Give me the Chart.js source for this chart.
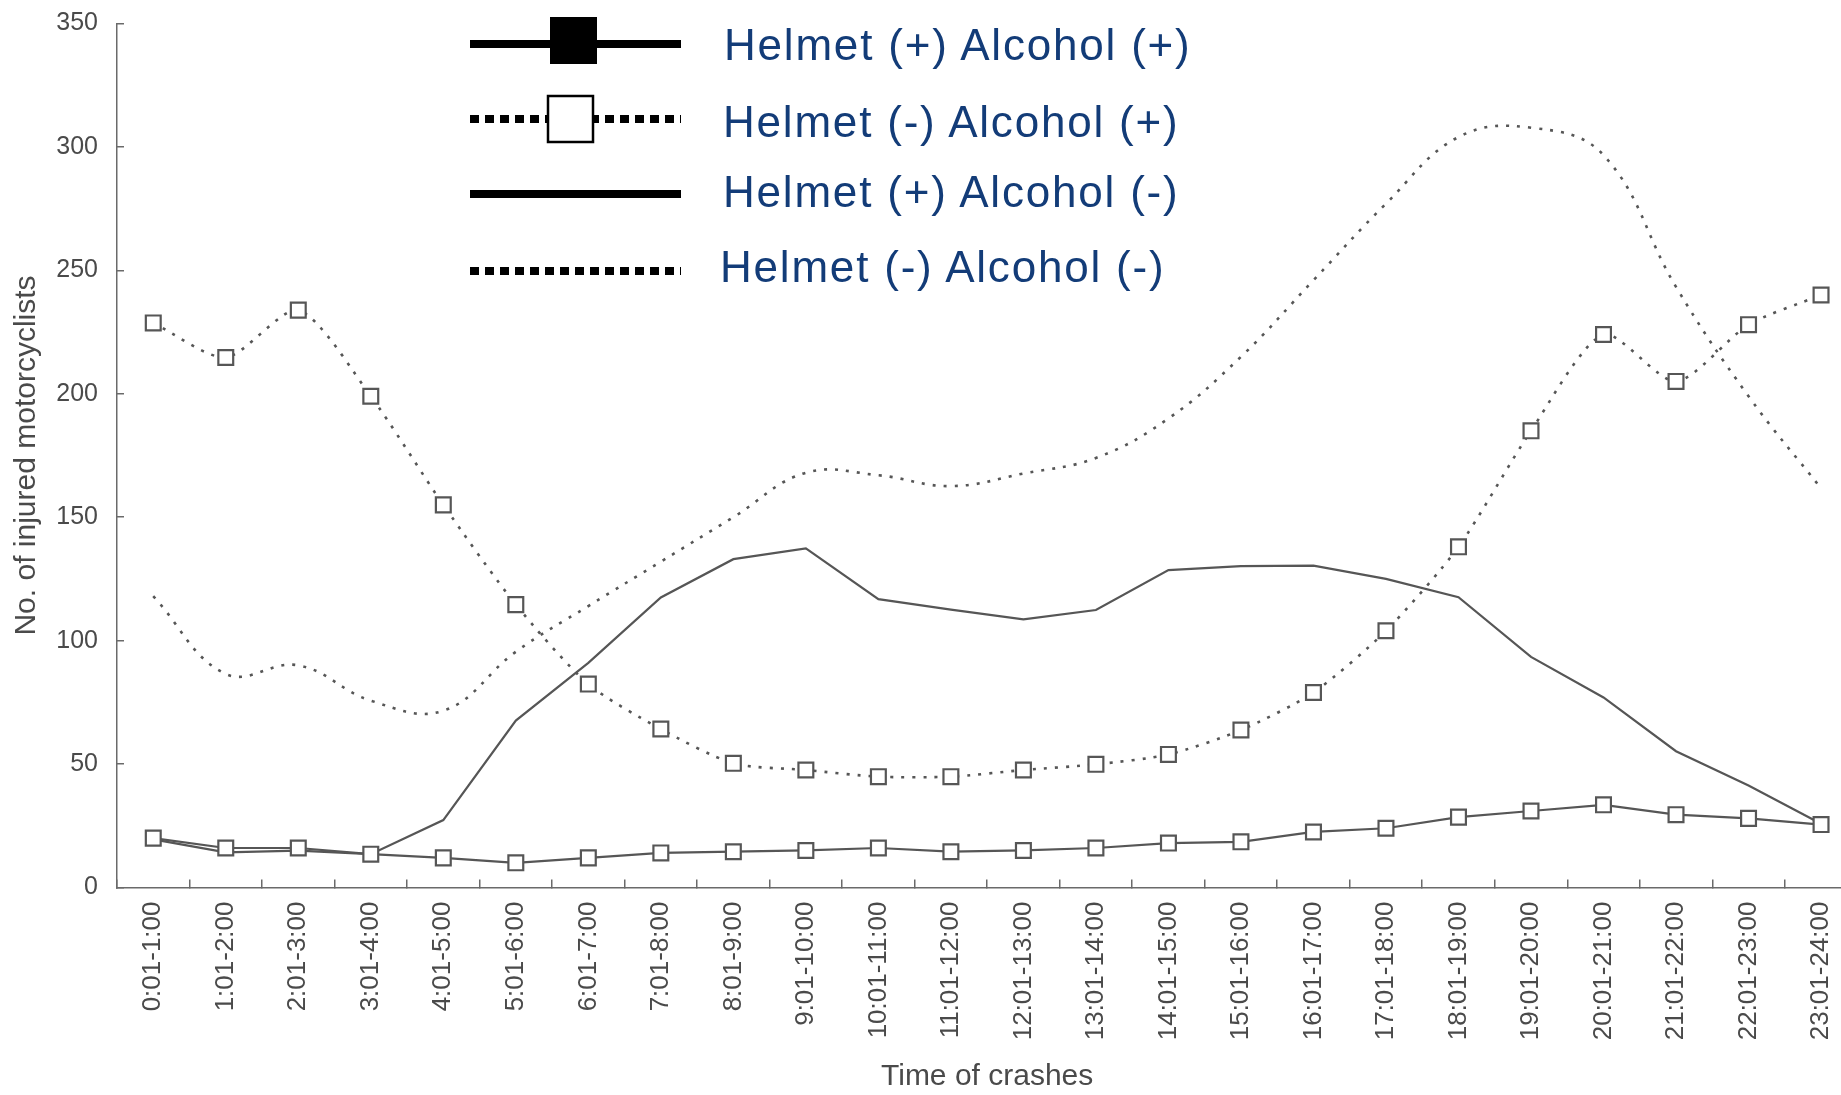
<!DOCTYPE html>
<html>
<head>
<meta charset="utf-8">
<title>Injured motorcyclists by time of crash</title>
<script src="https://cdn.jsdelivr.net/npm/chart.js@4.4.0/dist/chart.umd.min.js"></script>
<style>
  html, body { margin: 0; padding: 0; background: #fff; overflow: hidden; }
  #wrap { position: relative; width: 1870px; height: 1095px; }
  #legendMarks { position: absolute; left: 0; top: 0; }
  .lg-text {
    position: absolute;
    font-family: "Liberation Sans", Arial, sans-serif;
    font-size: 44px;
    line-height: 1;
    letter-spacing: 1.8px;
    color: #133c78;
    white-space: nowrap;
  }
</style>
</head>
<body>
<div id="wrap">
  <canvas id="crashChart" width="1870" height="1095"></canvas>
  <svg id="legendMarks" width="720" height="300">
    <line x1="470" y1="44" x2="681" y2="44" stroke="#000" stroke-width="8"/>
    <rect x="550" y="17" width="47" height="47" fill="#000"/>
    <line x1="470" y1="119" x2="681" y2="119" stroke="#000" stroke-width="8" stroke-dasharray="9 6"/>
    <rect x="548" y="96" width="45" height="46" fill="#fff" stroke="#000" stroke-width="2.5"/>
    <line x1="470" y1="194" x2="681" y2="194" stroke="#000" stroke-width="8"/>
    <line x1="470" y1="271" x2="681" y2="271" stroke="#000" stroke-width="8" stroke-dasharray="9 6"/>
  </svg>
  <span class="lg-text" style="left:724px; top:23px;">Helmet (+) Alcohol (+)</span>
  <span class="lg-text" style="left:723px; top:100px;">Helmet (-) Alcohol (+)</span>
  <span class="lg-text" style="left:723px; top:170px;">Helmet (+) Alcohol (-)</span>
  <span class="lg-text" style="left:720px; top:245px;">Helmet (-) Alcohol (-)</span>
</div>

<script>
// hourly bands
const timeLabels = [
  "0:01-1:00", "1:01-2:00", "2:01-3:00", "3:01-4:00", "4:01-5:00", "5:01-6:00",
  "6:01-7:00", "7:01-8:00", "8:01-9:00", "9:01-10:00", "10:01-11:00", "11:01-12:00",
  "12:01-13:00", "13:01-14:00", "14:01-15:00", "15:01-16:00", "16:01-17:00", "17:01-18:00",
  "18:01-19:00", "19:01-20:00", "20:01-21:00", "21:01-22:00", "22:01-23:00", "23:01-24:00"
];

// values
const helmetYesAlcoholYes = [20, 16, 16, 13.5, 12, 10, 12, 14, 14.5, 15, 16, 14.5,
  15, 16, 18, 18.5, 22.5, 24, 28.5, 31, 33.5, 29.5, 28, 25.5];
const helmetNoAlcoholYes = [228.7, 214.7, 233.9, 199, 155, 114.6, 82.4, 64.2, 50.3, 47.6, 44.9, 44.9,
  47.6, 49.9, 53.9, 63.8, 79, 104, 138, 185, 224, 205, 228, 240];
const helmetYesAlcoholNo = [19.5, 14.2, 14.9, 13.5, 27.3, 67.6, 91, 117.5, 133, 137.4, 116.8, 112.6,
  108.6, 112.4, 128.6, 130.2, 130.4, 125, 117.6, 93.4, 77, 55.2, 41.3, 25.8];
const helmetNoAlcoholNo = [118, 86.5, 90, 75.7, 71.6, 95.5, 114, 132, 150, 168, 167, 162.6,
  167.7, 174, 190, 215, 246, 277, 304, 307.8, 296.7, 243.3, 199, 161.7];

const yTicks = [0, 50, 100, 150, 200, 250, 300, 350];

const lineGray = "#565656";
const axisGray = "#6a6a6a";
const textGray = "#4a4a4a";
const fontFamily = '"Liberation Sans", Arial, sans-serif';

const ctx = document.getElementById("crashChart").getContext("2d");
new Chart(ctx, {
  type: "line",
  data: {
    labels: timeLabels,
    datasets: [
      {
        label: "Helmet (+) Alcohol (+)",
        data: helmetYesAlcoholYes,
        borderColor: lineGray,
        borderWidth: 2.2,
        tension: 0,
        pointStyle: "rect",
        pointRadius: 10.5,
        pointBackgroundColor: "#fff",
        pointBorderColor: lineGray,
        pointBorderWidth: 2.2
      },
      {
        label: "Helmet (-) Alcohol (+)",
        data: helmetNoAlcoholYes,
        borderColor: lineGray,
        borderWidth: 2.6,
        borderDash: [3, 8],
        tension: 0.25,
        pointStyle: "rect",
        pointRadius: 10.5,
        pointBackgroundColor: "#fff",
        pointBorderColor: lineGray,
        pointBorderWidth: 2.2
      },
      {
        label: "Helmet (+) Alcohol (-)",
        data: helmetYesAlcoholNo,
        borderColor: lineGray,
        borderWidth: 2.2,
        tension: 0,
        pointRadius: 0
      },
      {
        label: "Helmet (-) Alcohol (-)",
        data: helmetNoAlcoholNo,
        borderColor: lineGray,
        borderWidth: 2.6,
        borderDash: [3, 8],
        tension: 0.4,
        pointRadius: 0
      }
    ]
  },
  options: {
    responsive: false,
    animation: false,
    layout: { padding: { top: 23.5, right: 1, bottom: 0, left: 0 } },
    plugins: {
      legend: { display: false },
      tooltip: { enabled: false }
    },
    scales: {
      x: {
        offset: true,
        grid: { offset: true, drawOnChartArea: false, tickLength: -8, color: axisGray, lineWidth: 1.5 },
        border: { color: axisGray, width: 1.5 },
        ticks: {
          autoSkip: false, maxRotation: 90, minRotation: 90, padding: 22,
          color: textGray, font: { family: fontFamily, size: 26 }
        },
        title: {
          display: true, text: "Time of crashes", color: textGray,
          font: { family: fontFamily, size: 30 }, padding: { top: 10, bottom: 0 }
        },
        afterFit: (scale) => {
          scale.height = 207.5;
          scale.paddingLeft = 0;
          scale.paddingRight = 0;
        }
      },
      y: {
        min: 0,
        max: 350,
        afterBuildTicks: (scale) => { scale.ticks = yTicks.map(v => ({ value: v })); },
        grid: { drawOnChartArea: false, tickLength: -7, color: axisGray, lineWidth: 1.5 },
        border: { color: axisGray, width: 1.5 },
        ticks: { padding: 26, color: textGray, font: { family: fontFamily, size: 25 } },
        title: {
          display: true, text: "No. of injured motorcyclists", color: textGray,
          font: { family: fontFamily, size: 30 }, padding: { top: 9, bottom: 10 }
        },
        afterFit: (scale) => {
          scale.width = 117;
          scale.paddingTop = 0;
          scale.paddingBottom = 0;
        }
      }
    }
  }
});
</script>
</body>
</html>
